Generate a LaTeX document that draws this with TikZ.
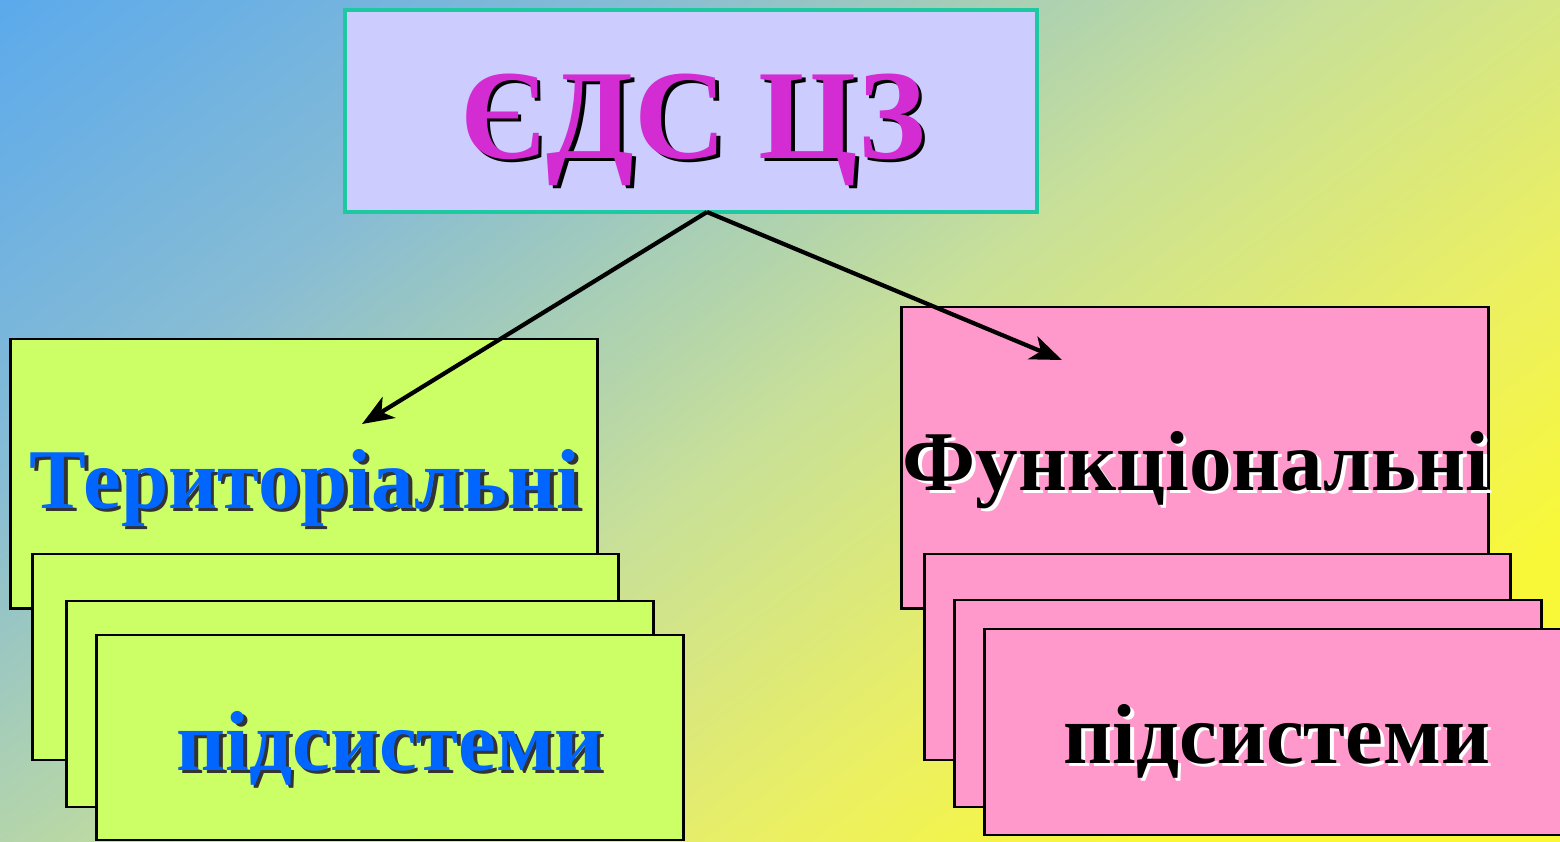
\documentclass[tikz,border=0pt]{standalone}
\usepackage{fontspec}
\setmainfont{Liberation Serif}
\usepackage{tikz}
\usetikzlibrary{arrows.meta}
\usetikzlibrary{positioning}
\definecolor{bgblue}{RGB}{88,168,238}
\definecolor{bgsky}{RGB}{135,188,212}
\definecolor{bgmid}{RGB}{200,224,152}
\definecolor{bglemon}{RGB}{236,240,96}
\definecolor{bgyellow}{RGB}{248,248,56}
\definecolor{toplilac}{RGB}{204,204,255}
\definecolor{topteal}{RGB}{30,200,160}
\definecolor{topmagenta}{RGB}{210,44,210}
\definecolor{terrgreen}{RGB}{204,255,102}
\definecolor{funcpink}{RGB}{255,153,204}
\definecolor{terrblue}{RGB}{0,102,255}
\pgfdeclareverticalshading{bgshade}{100bp}{color(0bp)=(bgyellow); color(35bp)=(bgyellow); color(41bp)=(bglemon); color(50bp)=(bgmid); color(61bp)=(bgsky); color(72bp)=(bgblue); color(100bp)=(bgblue)}
\newcommand{\shtext}[2]{\makebox[0pt][l]{\hspace{1pt}\raisebox{-1pt}{\color{#1}#2}}#2}
\tikzstyle{tbox}=[draw,fill=terrgreen,minimum width=5.86cm,inner sep=0pt]
\tikzstyle{fbox}=[draw,fill=funcpink,minimum width=5.86cm,inner sep=0pt]
\begin{document}
\begin{tikzpicture}[x=0.01cm,y=-0.01cm,thick]
\tikzstyle{word}=[anchor=base,inner sep=0pt,font=\bfseries\fontsize{24.2}{29}\selectfont]
\tikzstyle{arrow}=[very thick,-{Stealth[length=9pt,width=7pt,inset=2.5pt]}]
\clip (0,0) rectangle (1560,841);
\shade[shading=bgshade,shading angle=37] (-170,-530) rectangle (1730,1370);

\node [tbox,minimum height=2.69cm] (t1) at (304,473.5) {};
\node [tbox,minimum height=2.06cm] (t2) at (325.5,657) {};
\node [tbox,minimum height=2.06cm] (t3) at (360,704) {};
\node [tbox,minimum height=2.05cm] (t4) at (390,737.5) {};

\node [fbox,minimum height=3.01cm] (f1) at (1195,457.5) {};
\node [fbox,minimum height=2.06cm] (f2) at (1217.5,657) {};
\node [fbox,minimum height=2.07cm] (f3) at (1248,703.5) {};
\node [fbox,minimum height=2.06cm] (f4) at (1278,732) {};

\node [draw=topteal,fill=toplilac,line width=1pt,minimum width=6.92cm,minimum height=2.02cm,inner sep=0pt] (r) at (691,111) {};

\coordinate (s) at (707,212);
\coordinate (tend) at (362,424);
\coordinate (fend) at (1062,360);
\draw [arrow] (s) -- (tend);
\draw [arrow] (s) -- (fend);

\node [word,text=topmagenta,font=\bfseries\fontsize{36.3}{40}\selectfont] at (r) [xshift=0.02cm,yshift=-0.47cm] {\shtext{black}{ЄДС ЦЗ}};
\node [word,text=terrblue] at (t1) [xshift=0.01cm,yshift=-0.345cm] {\shtext{black!80}{Територіальні}};
\node [word,text=terrblue] at (t4) [yshift=-0.325cm] {\shtext{black!80}{підсистеми}};
\node [word,text=black] at (f1) [xshift=0.01cm,yshift=-0.325cm] {\shtext{white}{Функціональні}};
\node [word,text=black] at (f4) [xshift=-0.01cm,yshift=-0.31cm] {\shtext{white}{підсистеми}};
\end{tikzpicture}
\end{document}
